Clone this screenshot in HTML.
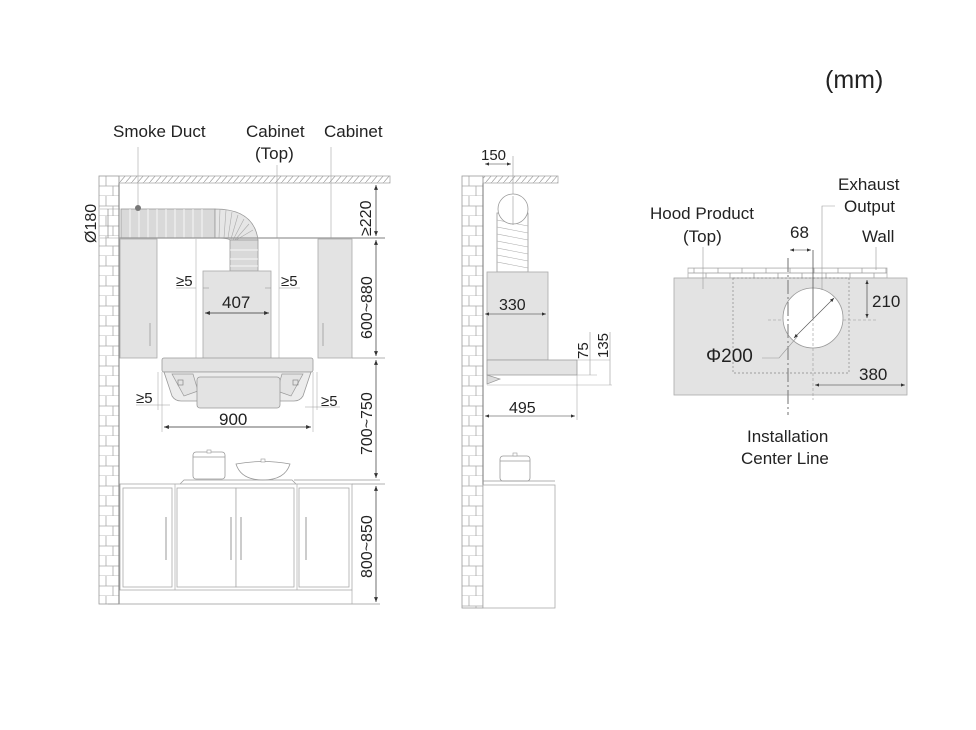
<!DOCTYPE html>
<html><head><meta charset="utf-8"><style>
html,body{margin:0;padding:0;background:#fff}
svg{display:block}
text{font-family:"Liberation Sans",Arial,sans-serif;fill:#222}
</style></head><body>
<svg width="976" height="730" viewBox="0 0 976 730" xmlns="http://www.w3.org/2000/svg">
<defs>
<pattern id="brick" x="99" y="176" width="20" height="20" patternUnits="userSpaceOnUse">
<rect width="20" height="20" fill="#fff"/>
<path d="M0 10H20M0 20H20M7 0V10M14 10V20" stroke="#aaa" stroke-width="0.8" fill="none"/>
</pattern>
<pattern id="brick2" x="462" y="176" width="21" height="20" patternUnits="userSpaceOnUse">
<rect width="21" height="20" fill="#fff"/>
<path d="M0 10H21M0 20H21M7 0V10M14 10V20" stroke="#aaa" stroke-width="0.8" fill="none"/>
</pattern>
<pattern id="hatch" width="6" height="7" patternUnits="userSpaceOnUse">
<path d="M0 7L6 0" stroke="#999" stroke-width="0.7"/>
</pattern>
<pattern id="wbrick" x="688" y="268" width="24" height="10" patternUnits="userSpaceOnUse">
<rect width="24" height="10" fill="#fff"/>
<path d="M0 5H24M0 0H24M6 0V5M18 5V10" stroke="#999" stroke-width="0.7" fill="none"/>
</pattern>
<marker id="ar" viewBox="0 0 10 10" refX="10" refY="5" markerWidth="7" markerHeight="7" orient="auto-start-reverse"><path d="M0 1L10 5L0 9z" fill="#333"/></marker>
</defs>

<text x="825" y="88" font-size="25">(mm)</text>

<!-- LEFT VIEW -->
<text x="113" y="137" font-size="17">Smoke Duct</text>
<text x="246" y="137" font-size="17">Cabinet</text>
<text x="255" y="159" font-size="17">(Top)</text>
<text x="324" y="137" font-size="17">Cabinet</text>
<g stroke="#bbb" stroke-width="0.8">
<line x1="138" y1="147" x2="138" y2="209"/>
<line x1="277" y1="165" x2="277" y2="238"/>
<line x1="331" y1="147" x2="331" y2="238"/>
</g>
<rect x="99" y="176" width="20" height="428" fill="url(#brick)" stroke="#999" stroke-width="0.8"/>
<line x1="119" y1="176" x2="119" y2="604" stroke="#777"/>
<rect x="119" y="176" width="271" height="7" fill="url(#hatch)" stroke="#aaa" stroke-width="0.8"/>
<rect x="121" y="209" width="94" height="29" fill="#d9d9d9" stroke="#999" stroke-width="0.8"/>
<g stroke="#fff" stroke-width="0.8">
<line x1="130" y1="209" x2="130" y2="238"/><line x1="139" y1="209" x2="139" y2="238"/><line x1="148" y1="209" x2="148" y2="238"/><line x1="157" y1="209" x2="157" y2="238"/><line x1="166" y1="209" x2="166" y2="238"/><line x1="175" y1="209" x2="175" y2="238"/><line x1="184" y1="209" x2="184" y2="238"/><line x1="193" y1="209" x2="193" y2="238"/><line x1="202" y1="209" x2="202" y2="238"/>
</g>
<path d="M215 209 Q254 209 258 240 L258 240 L230 240 Q228 238 215 238Z" fill="#e6e6e6" stroke="#999" stroke-width="0.8"/>
<path d="M220 209L219 238M226 210L224 238M232 212L228 238M238 215L231 239M244 219L233 240M249 224L235 240M253 230L236 240" stroke="#aaa" stroke-width="0.6"/>
<rect x="230" y="240" width="28" height="31" fill="#d9d9d9" stroke="#999" stroke-width="0.8"/>
<path d="M230 250H258M230 259H258M230 266H258" stroke="#fff" stroke-width="0.8"/>
<circle cx="138" cy="208" r="3" fill="#777"/>
<line x1="119" y1="238" x2="385" y2="238" stroke="#999" stroke-width="1.2"/>
<rect x="120" y="239" width="37" height="119" fill="#e3e3e3" stroke="#aaa" stroke-width="0.8"/>
<rect x="318" y="239" width="34" height="119" fill="#e3e3e3" stroke="#aaa" stroke-width="0.8"/>
<line x1="150" y1="323" x2="150" y2="346" stroke="#aaa" stroke-width="1"/>
<line x1="323" y1="323" x2="323" y2="346" stroke="#aaa" stroke-width="1"/>
<line x1="196" y1="238" x2="196" y2="358" stroke="#bbb" stroke-width="0.7"/>
<line x1="279" y1="238" x2="279" y2="358" stroke="#bbb" stroke-width="0.7"/>
<rect x="203" y="271" width="68" height="89" fill="#e3e3e3" stroke="#aaa" stroke-width="0.8"/>
<line x1="203" y1="288" x2="209" y2="288" stroke="#999" stroke-width="0.6"/>
<line x1="265" y1="288" x2="271" y2="288" stroke="#999" stroke-width="0.6"/>
<text x="176" y="286" font-size="15">≥5</text><line x1="176" y1="288" x2="196" y2="288" stroke="#999" stroke-width="0.6"/>
<text x="281" y="286" font-size="15">≥5</text><line x1="279" y1="288" x2="300" y2="288" stroke="#999" stroke-width="0.6"/>
<text x="222" y="308" font-size="17">407</text>
<line x1="205" y1="313" x2="269" y2="313" stroke="#333" stroke-width="0.7" marker-start="url(#ar)" marker-end="url(#ar)"/>
<rect x="162" y="358" width="151" height="14" rx="2" fill="#e3e3e3" stroke="#999" stroke-width="0.8"/>
<path d="M164 372 L311 372 L303 396 Q300 401 294 401 L181 401 Q175 401 172 396Z" fill="#ececec" stroke="#999" stroke-width="0.8"/>
<path d="M172 374L193 374L198 391L184 396ZM303 374L282 374L277 391L291 396Z" fill="#e3e3e3" stroke="#999" stroke-width="0.7"/>
<rect x="178" y="380" width="5" height="5" fill="none" stroke="#888" stroke-width="0.7"/>
<rect x="293" y="380" width="5" height="5" fill="none" stroke="#888" stroke-width="0.7"/>
<rect x="197" y="377" width="83" height="31" rx="3" fill="#e3e3e3" stroke="#999" stroke-width="0.8"/>
<line x1="162" y1="372" x2="162" y2="432" stroke="#bbb" stroke-width="0.7"/>
<line x1="313" y1="372" x2="313" y2="432" stroke="#bbb" stroke-width="0.7"/>
<line x1="158" y1="372" x2="158" y2="410" stroke="#bbb" stroke-width="0.7"/>
<line x1="317" y1="372" x2="317" y2="410" stroke="#bbb" stroke-width="0.7"/>
<text x="136" y="403" font-size="15">≥5</text><line x1="136" y1="405" x2="170" y2="405" stroke="#999" stroke-width="0.6"/>
<text x="321" y="406" font-size="15">≥5</text><line x1="305" y1="407" x2="340" y2="407" stroke="#999" stroke-width="0.6"/>
<text x="219" y="425" font-size="17">900</text>
<line x1="164" y1="427" x2="311" y2="427" stroke="#333" stroke-width="0.7" marker-start="url(#ar)" marker-end="url(#ar)"/>
<rect x="193" y="452" width="32" height="27" rx="3" fill="#fff" stroke="#999" stroke-width="0.8"/>
<line x1="193" y1="457" x2="225" y2="457" stroke="#999" stroke-width="0.7"/>
<rect x="207" y="450" width="4" height="3" fill="#fff" stroke="#999" stroke-width="0.6"/>
<path d="M236 464 Q263 459 290 464 Q285 480 263 480 Q241 480 236 464Z" fill="#fff" stroke="#999" stroke-width="0.8"/>
<rect x="261" y="459" width="4" height="3" fill="#fff" stroke="#999" stroke-width="0.6"/>
<path d="M180 484L184 480L292 480L296 484" fill="none" stroke="#999" stroke-width="0.7"/>
<line x1="294" y1="480" x2="380" y2="480" stroke="#999" stroke-width="0.7"/>
<rect x="120" y="484" width="232" height="106" fill="#fff" stroke="#aaa" stroke-width="0.8"/>
<rect x="123" y="488" width="49" height="99" fill="#fff" stroke="#aaa" stroke-width="0.8"/>
<rect x="177" y="488" width="59" height="99" fill="#fff" stroke="#aaa" stroke-width="0.8"/>
<rect x="236" y="488" width="58" height="99" fill="#fff" stroke="#aaa" stroke-width="0.8"/>
<rect x="299" y="488" width="50" height="99" fill="#fff" stroke="#aaa" stroke-width="0.8"/>
<line x1="175" y1="484" x2="175" y2="590" stroke="#aaa" stroke-width="0.7"/>
<line x1="297" y1="484" x2="297" y2="590" stroke="#aaa" stroke-width="0.7"/>
<g stroke="#aaa" stroke-width="1.2"><line x1="166" y1="517" x2="166" y2="560"/><line x1="231" y1="517" x2="231" y2="560"/><line x1="241" y1="517" x2="241" y2="560"/><line x1="306" y1="517" x2="306" y2="560"/></g>
<line x1="108" y1="604" x2="380" y2="604" stroke="#999" stroke-width="0.8"/>
<line x1="352" y1="590" x2="352" y2="604" stroke="#aaa" stroke-width="0.7"/>
<g stroke="#333" stroke-width="0.7">
<line x1="376" y1="185" x2="376" y2="236" marker-start="url(#ar)" marker-end="url(#ar)"/>
<line x1="376" y1="240" x2="376" y2="356" marker-start="url(#ar)" marker-end="url(#ar)"/>
<line x1="376" y1="360" x2="376" y2="478" marker-start="url(#ar)" marker-end="url(#ar)"/>
<line x1="376" y1="486" x2="376" y2="602" marker-start="url(#ar)" marker-end="url(#ar)"/>
</g>
<line x1="352" y1="358" x2="385" y2="358" stroke="#999" stroke-width="0.7"/>
<line x1="352" y1="484" x2="385" y2="484" stroke="#999" stroke-width="0.7"/>
<g font-size="16">
<text transform="translate(371,236) rotate(-90)">≥220</text>
<text transform="translate(372,339) rotate(-90)">600~880</text>
<text transform="translate(372,455) rotate(-90)">700~750</text>
<text transform="translate(372,578) rotate(-90)">800~850</text>
<text transform="translate(96,243) rotate(-90)">Ø180</text>
</g>
<line x1="100" y1="209" x2="120" y2="209" stroke="#999" stroke-width="0.6"/>
<line x1="100" y1="238" x2="120" y2="238" stroke="#999" stroke-width="0.6"/>
<line x1="108" y1="209" x2="108" y2="238" stroke="#777" stroke-width="0.6"/>

<!-- SIDE VIEW -->
<rect x="462" y="176" width="21" height="432" fill="url(#brick2)" stroke="#999" stroke-width="0.8"/>
<line x1="483" y1="176" x2="483" y2="608" stroke="#777"/>
<rect x="483" y="176" width="75" height="7" fill="url(#hatch)" stroke="#aaa" stroke-width="0.8"/>
<text x="481" y="160" font-size="15">150</text>
<line x1="513" y1="156" x2="513" y2="225" stroke="#999" stroke-width="0.6"/>
<line x1="485" y1="164" x2="511" y2="164" stroke="#333" stroke-width="0.6" marker-start="url(#ar)" marker-end="url(#ar)"/>
<rect x="497" y="213" width="31" height="59" fill="#fff" stroke="#999" stroke-width="0.8"/>
<path d="M497 220L528 226M497 227L528 233M497 234L528 240M497 241L528 247M497 248L528 254M497 255L528 261M497 262L528 268" stroke="#aaa" stroke-width="0.6"/>
<circle cx="513" cy="209" r="15" fill="#fff" stroke="#999" stroke-width="0.8"/>
<line x1="513" y1="196" x2="513" y2="225" stroke="#999" stroke-width="0.6"/>
<rect x="487" y="272" width="61" height="88" fill="#e3e3e3" stroke="#aaa" stroke-width="0.8"/>
<text x="499" y="310" font-size="16">330</text>
<line x1="485" y1="314" x2="546" y2="314" stroke="#333" stroke-width="0.6" marker-start="url(#ar)" marker-end="url(#ar)"/>
<path d="M487 360L577 360L577 375L487 375Z" fill="#e3e3e3" stroke="#999" stroke-width="0.8"/>
<path d="M487 375L500 379L487 384Z" fill="#ddd" stroke="#999" stroke-width="0.7"/>
<line x1="487" y1="385" x2="612" y2="385" stroke="#aaa" stroke-width="0.6"/>
<line x1="577" y1="375" x2="597" y2="375" stroke="#aaa" stroke-width="0.6"/>
<line x1="577" y1="360" x2="610" y2="360" stroke="#aaa" stroke-width="0.6"/>
<line x1="590" y1="332" x2="590" y2="375" stroke="#999" stroke-width="0.6"/>
<line x1="610" y1="332" x2="610" y2="385" stroke="#999" stroke-width="0.6"/>
<text transform="translate(588,359) rotate(-90)" font-size="15">75</text>
<text transform="translate(608,358) rotate(-90)" font-size="15">135</text>
<line x1="577" y1="375" x2="577" y2="420" stroke="#aaa" stroke-width="0.6"/>
<text x="509" y="413" font-size="16">495</text>
<line x1="485" y1="416" x2="575" y2="416" stroke="#333" stroke-width="0.6" marker-start="url(#ar)" marker-end="url(#ar)"/>
<rect x="500" y="456" width="30" height="25" rx="3" fill="#fff" stroke="#999" stroke-width="0.8"/>
<line x1="500" y1="461" x2="530" y2="461" stroke="#999" stroke-width="0.7"/>
<rect x="513" y="453" width="4" height="3" fill="#fff" stroke="#999" stroke-width="0.6"/>
<line x1="483" y1="481" x2="555" y2="481" stroke="#999" stroke-width="0.8"/>
<rect x="483" y="485" width="72" height="123" fill="#fff" stroke="#aaa" stroke-width="0.8"/>

<!-- TOP VIEW -->
<text x="838" y="190" font-size="17">Exhaust</text>
<text x="844" y="212" font-size="17">Output</text>
<text x="650" y="219" font-size="17">Hood Product</text>
<text x="683" y="242" font-size="17">(Top)</text>
<text x="790" y="238" font-size="17">68</text>
<text x="862" y="242" font-size="17">Wall</text>
<rect x="688" y="268" width="199" height="10" fill="url(#wbrick)" stroke="#aaa" stroke-width="0.7"/>
<rect x="674" y="278" width="233" height="117" fill="#e3e3e3" stroke="#aaa" stroke-width="0.8"/>
<rect x="733" y="278" width="116" height="95" fill="none" stroke="#888" stroke-width="0.7" stroke-dasharray="2,2"/>
<line x1="768" y1="320" x2="876" y2="320" stroke="#999" stroke-width="0.6" stroke-dasharray="3,2"/>
<circle cx="813" cy="318" r="30" fill="#fff" stroke="#999" stroke-width="0.8"/>
<line x1="813" y1="250" x2="813" y2="318" stroke="#555" stroke-width="0.8"/>
<line x1="813" y1="318" x2="813" y2="400" stroke="#999" stroke-width="0.6" stroke-dasharray="3,2"/>
<line x1="788" y1="258" x2="788" y2="415" stroke="#888" stroke-width="1.2" stroke-dasharray="14,3,2,3"/>
<line x1="790" y1="250" x2="811" y2="250" stroke="#333" stroke-width="0.6" marker-start="url(#ar)" marker-end="url(#ar)"/>
<line x1="794" y1="338" x2="834" y2="298" stroke="#555" stroke-width="0.6" marker-start="url(#ar)" marker-end="url(#ar)"/>
<path d="M762 358L779 358L797 337" fill="none" stroke="#999" stroke-width="0.6"/>
<text x="706" y="362" font-size="19">Φ200</text>
<line x1="867" y1="280" x2="867" y2="318" stroke="#333" stroke-width="0.6" marker-start="url(#ar)" marker-end="url(#ar)"/>
<text x="872" y="307" font-size="17">210</text>
<text x="859" y="380" font-size="17">380</text>
<line x1="815" y1="385" x2="905" y2="385" stroke="#333" stroke-width="0.6" marker-start="url(#ar)" marker-end="url(#ar)"/>
<line x1="703" y1="247" x2="703" y2="289" stroke="#999" stroke-width="0.6"/>
<line x1="876" y1="247" x2="876" y2="270" stroke="#999" stroke-width="0.6"/>
<path d="M835 206L822 206L822 290" fill="none" stroke="#999" stroke-width="0.6"/>
<text x="747" y="442" font-size="17">Installation</text>
<text x="741" y="464" font-size="17">Center Line</text>
</svg>
</body></html>
